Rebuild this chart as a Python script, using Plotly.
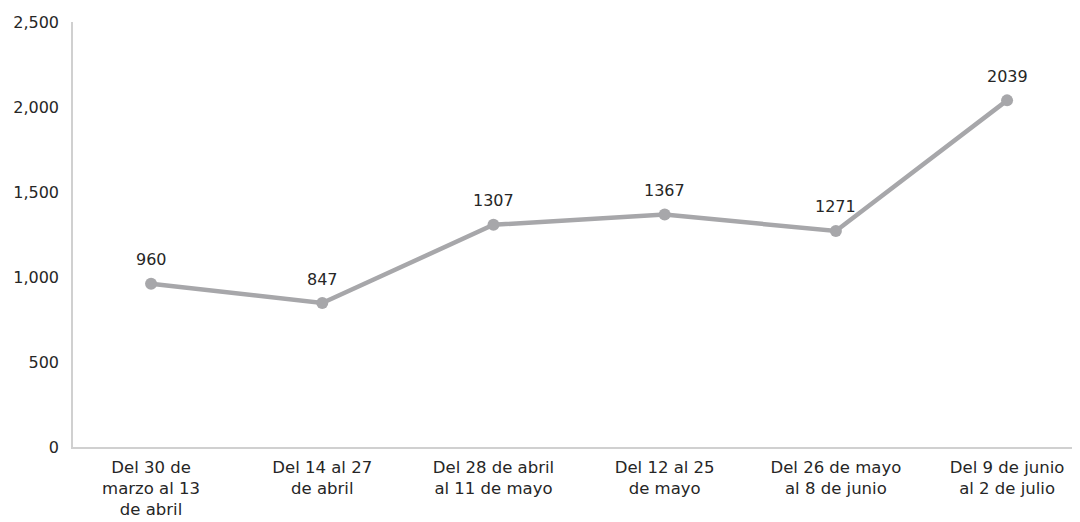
import plotly.graph_objects as go

categories = ["Del 30 de<br>marzo al 13<br>de abril", "Del 14 al 27<br>de abril",
              "Del 28 de abril<br>al 11 de mayo", "Del 12 al 25<br>de mayo",
              "Del 26 de mayo<br>al 8 de junio", "Del 9 de junio<br>al 2 de julio"]
values = [960, 847, 1307, 1367, 1271, 2039]
y_ticks = [0, 500, 1000, 1500, 2000, 2500]

font_family = "'DejaVu Sans', sans-serif"
txt = "#262626"

fig = go.Figure(go.Scatter(
    x=categories, y=values, mode="lines+markers",
    line=dict(color="#a7a7aa", width=4.5),
    marker=dict(color="#a7a7aa", size=12),
    cliponaxis=False, hoverinfo="skip"))

for c, v in zip(categories, values):
    fig.add_annotation(x=c, y=v, text=str(v), showarrow=False, yshift=24,
                       font=dict(size=16, color=txt, family=font_family))

# page body has an 8px default margin, so the figure is 8px smaller
fig.update_layout(
    width=1072, height=514,
    margin=dict(l=65, r=0, t=14, b=75),
    paper_bgcolor="white", plot_bgcolor="white",
    showlegend=False,
    font=dict(family=font_family, size=16, color=txt),
)
fig.update_xaxes(
    range=[-0.456, 5.426], showline=True, linecolor="#d0d0d0", linewidth=1.5,
    showgrid=False, ticks="", automargin=False, ticklabelstandoff=4,
    tickfont=dict(size=16.5, color=txt))
fig.update_yaxes(
    range=[0, 2500], tickvals=y_ticks, tickformat=",", showline=True,
    linecolor="#d0d0d0", linewidth=1.5, showgrid=False, zeroline=False,
    ticks="", automargin=False, ticklabelstandoff=9,
    tickfont=dict(size=16, color=txt))

fig.write_html("out.html")
